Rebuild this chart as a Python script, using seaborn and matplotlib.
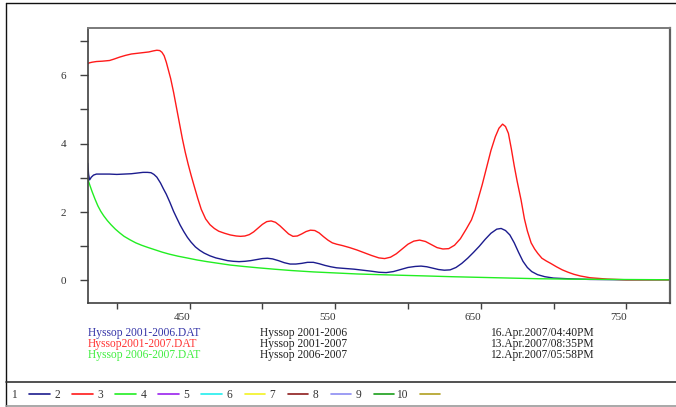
import matplotlib
matplotlib.use("Agg")
import matplotlib.pyplot as plt
from matplotlib.lines import Line2D
from matplotlib.transforms import ScaledTranslation
import pandas as pd
import seaborn as sns

# ---------------- data ----------------
blue_x = [380, 380.6, 381.3, 382.5, 384, 386, 390, 395, 400, 405, 410, 414, 418, 421, 423.5,
          425.5, 427.5, 430, 432, 434, 436.5, 439, 441, 443.5, 446, 448.5, 451, 454, 457, 460,
          464, 468, 472, 476, 480, 484, 488, 492, 496, 500, 503.5, 507, 511, 515, 519, 523,
          527, 531, 535, 539, 543, 547, 551, 557, 563, 569, 575, 580, 585, 590, 595, 600, 605,
          609, 613, 617, 621, 625, 629, 633, 637, 641, 645, 649, 653, 657, 661, 664, 667, 670,
          673, 676, 679, 682, 685, 689, 694, 700, 710, 725, 750, 780]
blue_y = [3.43, 3.10, 2.94, 3.02, 3.08, 3.11, 3.11, 3.11, 3.10, 3.11, 3.12, 3.14, 3.16, 3.16, 3.15,
          3.10, 3.02, 2.85, 2.68, 2.52, 2.28, 2.02, 1.84, 1.62, 1.43, 1.26, 1.12, 0.98, 0.88, 0.80,
          0.72, 0.66, 0.62, 0.58, 0.56, 0.55, 0.56, 0.58, 0.61, 0.64, 0.65, 0.63, 0.58, 0.52, 0.48, 0.48,
          0.50, 0.53, 0.53, 0.49, 0.44, 0.40, 0.37, 0.35, 0.33, 0.30, 0.27, 0.24, 0.23, 0.26, 0.32, 0.38, 0.41,
          0.42, 0.40, 0.36, 0.32, 0.30, 0.31, 0.38, 0.50, 0.65, 0.82, 1.00, 1.20, 1.38, 1.50, 1.52, 1.46, 1.33,
          1.10, 0.82, 0.56, 0.38, 0.26, 0.17, 0.11, 0.07, 0.05, 0.03, 0.02, 0.02]

red_x = [380, 381, 383, 386, 390, 395, 398, 402, 406, 410, 414, 418, 422, 425, 427.5, 429.5,
         431, 432.5, 434, 435.5, 437, 439, 441, 443, 445, 447, 449, 451, 453, 455.6,
         458, 461, 464, 467, 470, 474, 478, 482, 485, 488, 491, 494, 497, 500, 503, 506, 509,
         512, 515, 518, 521, 524, 527, 530, 533, 536, 539, 542, 545, 548, 551, 555, 560, 565,
         570, 575, 580, 584, 588, 592, 596, 600, 604, 608, 612, 616, 620, 624, 628, 632, 636,
         640, 643.6, 646, 648, 651, 654, 657, 660, 662.5, 665, 667, 669, 671, 673, 675,
         677.7, 680, 682, 684.6, 687, 689.2, 692, 695, 698, 702, 706, 710, 714, 718.5, 725,
         737, 750, 780]
red_y = [6.33, 6.36, 6.38, 6.40, 6.41, 6.43, 6.47, 6.53, 6.58, 6.62, 6.64, 6.66, 6.68, 6.71, 6.73, 6.72,
         6.67, 6.57, 6.38, 6.14, 5.90, 5.50, 5.05, 4.60, 4.15, 3.75, 3.40, 3.08, 2.78, 2.40,
         2.08, 1.80, 1.63, 1.52, 1.44, 1.38, 1.33, 1.30, 1.29, 1.30, 1.34, 1.42, 1.53, 1.64, 1.72, 1.74, 1.70,
         1.60, 1.48, 1.36, 1.29, 1.30, 1.36, 1.43, 1.47, 1.46, 1.39, 1.28, 1.18, 1.10, 1.06, 1.02, 0.96, 0.89,
         0.81, 0.73, 0.66, 0.64, 0.68, 0.78, 0.92, 1.06, 1.15, 1.18, 1.14, 1.05, 0.96, 0.92, 0.93, 1.03, 1.22,
         1.50, 1.77, 2.05, 2.35, 2.80, 3.30, 3.80, 4.20, 4.45, 4.57, 4.50, 4.30, 3.85, 3.35, 2.90,
         2.35, 1.80, 1.45, 1.10, 0.92, 0.79, 0.65, 0.57, 0.50, 0.40, 0.31, 0.24, 0.18, 0.13, 0.08,
         0.04, 0.02, 0.02]

green_x = [380, 381.5, 383, 385, 387, 389, 391, 393.5, 396, 399, 402, 405, 409, 413, 417, 421,
           426, 431, 436, 442, 448, 455, 462, 470, 478, 487, 497, 508, 520, 535, 550, 565, 580,
           597, 614, 630, 650, 670, 690, 710, 740, 780]
green_y = [2.97, 2.78, 2.60, 2.38, 2.18, 2.02, 1.89, 1.75, 1.63, 1.50, 1.39, 1.29, 1.19, 1.10, 1.03, 0.97,
           0.90, 0.83, 0.77, 0.71, 0.66, 0.60, 0.55, 0.50, 0.45, 0.41, 0.37, 0.33, 0.29, 0.25, 0.22, 0.19, 0.17,
           0.15, 0.13, 0.11, 0.09, 0.07, 0.05, 0.04, 0.03, 0.02]

series_names = ["Hyssop 2001-2006", "Hyssop 2001-2007", "Hyssop 2006-2007"]
file_names = ["Hyssop 2001-2006.DAT", "Hyssop2001-2007.DAT", "Hyssop 2006-2007.DAT"]
timestamps = ["16.Apr.2007/04:40PM", "13.Apr.2007/08:35PM", "12.Apr.2007/05:58PM"]
series_colors = ["#1c1c8e", "#ff1a1a", "#22ee22"]
text_colors = ["#3434a8", "#ff3434", "#40ee40"]

x_major = [450, 550, 650, 750]
x_minor = [400, 500, 600, 700]
y_major = [0, 2, 4, 6]
y_minor = [1, 3, 5, 7]

strip_labels = ["1", "2", "3", "4", "5", "6", "7", "8", "9", "10"]
strip_colors = ["#1c1c8e", "#ff1a1a", "#22ee22", "#9a22ee", "#22eeee",
                "#f2f222", "#8e1c1c", "#8c8cf2", "#1a9e1a", "#b0a020"]

# ---------------- build table ----------------
frames = []
for name, xs, ys in zip(series_names, [blue_x, red_x, green_x], [blue_y, red_y, green_y]):
    frames.append(pd.DataFrame({"nm": xs, "val": ys, "series": name}))
df = pd.concat(frames, ignore_index=True)

sns.set_theme(style="white")
plt.rcParams["font.family"] = ["Liberation Serif", "DejaVu Serif"]

W, H = 676, 407
fig = plt.figure(figsize=(W / 100, H / 100), dpi=100)
fig.patch.set_facecolor("white")
L, R, T, B = 87.7, 670.0, 28.0, 302.7
ax = fig.add_axes([L / W, 1 - B / H, (R - L) / W, (B - T) / H])

sns.lineplot(data=df, x="nm", y="val", hue="series", hue_order=series_names,
             palette=dict(zip(series_names, series_colors)), sort=False,
             linewidth=1.0, legend=False, ax=ax)

ax.set_xlim(380, 780)
ax.set_ylim(-0.65, 7.38)
ax.set_xlabel("")
ax.set_ylabel("")
ax.set_xticks(x_major)
ax.set_xticks(x_minor, minor=True)
ax.set_yticks(y_major)
ax.set_yticks(y_minor, minor=True)
ax.set_xticklabels([str(v) for v in x_major])
ax.set_yticklabels([str(v) for v in y_major])

ax.tick_params(axis="x", which="both", direction="out", length=4.2, width=1.0,
               color="#404040", pad=3, labelsize=8, labelcolor="#333333", bottom=True)
ax.tick_params(axis="y", which="both", direction="out", length=6.0, width=1.0,
               color="#404040", pad=9.5, labelsize=8, labelcolor="#333333", left=True)
for lab in ax.get_xticklabels():
    lab.set_transform(lab.get_transform() + ScaledTranslation(-7.5 / 100, 0, fig.dpi_scale_trans))

for side, col, lw in [("left", "#404040", 1.2), ("bottom", "#404040", 1.2),
                      ("top", "#7a7a7a", 1.4), ("right", "#606060", 1.6)]:
    ax.spines[side].set_visible(True)
    ax.spines[side].set_color(col)
    ax.spines[side].set_linewidth(lw)

# ---------------- legend-like text block ----------------
row_y = [333, 344, 355]
for i in range(3):
    fy = 1 - row_y[i] / H
    fig.text(88 / W, fy, file_names[i], color=text_colors[i], fontsize=8.3, va="center", ha="left")
    fig.text(260 / W, fy, series_names[i], color="#222222", fontsize=8.3, va="center", ha="left")
    fig.text(490 / W, fy, timestamps[i], color="#222222", fontsize=8.3, va="center", ha="left")

# ---------------- frame lines ----------------
def fline(x0, y0, x1, y1, color, lw):
    fig.add_artist(Line2D([x0 / W, x1 / W], [1 - y0 / H, 1 - y1 / H],
                          transform=fig.transFigure, color=color, linewidth=lw))

fline(6, 3, 676, 3, "#111111", 1.0)
fline(6, 3, 6, 406, "#111111", 1.0)
fline(6, 382, 676, 382, "#333333", 1.2)
fline(6, 406, 676, 406, "#9a9a9a", 1.2)

# ---------------- bottom numbered strip ----------------
strip_y = 395
for k, (lab, col) in enumerate(zip(strip_labels, strip_colors)):
    cx = 14 + 43.1 * k
    fig.text(cx / W, 1 - strip_y / H, lab, fontsize=8.3, color="#333333", ha="center", va="center")
    off = 3 if len(lab) > 1 else 0
    fline(cx + 15 + off, strip_y - 1, cx + 35.5 + off, strip_y - 1, col, 1.2)

fig.savefig("out.png", dpi=100)
